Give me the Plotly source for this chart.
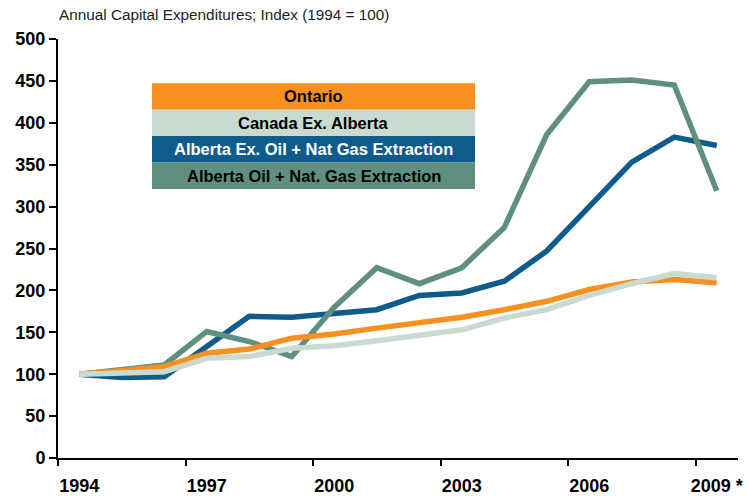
import plotly.graph_objects as go

years = ["1994", "1995", "1996", "1997", "1998", "1999", "2000", "2001",
         "2002", "2003", "2004", "2005", "2006", "2007", "2008", "2009 *"]
tick_labels = ["1994", "1997", "2000", "2003", "2006", "2009 *"]

ontario = [100, 104, 109, 125, 130, 143, 148, 155, 161, 168, 177, 187, 201, 210, 213, 209]
canada_ex_ab = [100, 101, 103, 119, 121, 131, 134, 140, 146, 153, 167, 177, 194, 208, 220, 215]
ab_ex_oil = [100, 96, 97, 132, 169, 168, 172, 177, 194, 197, 211, 247, 300, 353, 383, 373]
ab_oil = [100, 105, 111, 151, 139, 121, 180, 227, 208, 227, 275, 386, 449, 451, 445, 319]

series_names = ["Ontario", "Canada Ex. Alberta",
                "Alberta Ex. Oil + Nat Gas Extraction", "Alberta Oil + Nat. Gas Extraction"]
colors = ["#F7901E", "#C9DBD1", "#0F5C8C", "#5F907F"]
text_colors = ["#000000", "#000000", "#FFFFFF", "#000000"]

FONT = "Arial, Liberation Sans, Helvetica, sans-serif"
x_idx = list(range(len(years)))

fig = go.Figure()
# draw order: blue, green, orange, light
for vals, col, name in [(ab_ex_oil, colors[2], series_names[2]),
                        (ab_oil, colors[3], series_names[3]),
                        (ontario, colors[0], series_names[0]),
                        (canada_ex_ab, colors[1], series_names[1])]:
    fig.add_trace(go.Scatter(x=x_idx, y=vals, mode="lines", name=name,
                             line=dict(color=col, width=5.5), showlegend=False))

# custom legend box
row_top = 1.0 - (83.3 - 39) / 419
row_h = 26.4 / 419
x0 = (152 - 58) / 680
x1 = (475 - 58) / 680
for i, (name, col, tc) in enumerate(zip(series_names, colors, text_colors)):
    yt = row_top - i * row_h
    fig.add_shape(type="rect", xref="paper", yref="paper", x0=x0, x1=x1,
                  y0=yt - row_h, y1=yt, fillcolor=col, line=dict(width=0), layer="above")
    fig.add_annotation(xref="paper", yref="paper", x=(x0 + x1) / 2, y=yt - row_h / 2,
                       text="<b>%s</b>" % name, showarrow=False,
                       font=dict(family=FONT, size=16.5, color=tc),
                       xanchor="center", yanchor="middle")

fig.add_annotation(xref="paper", yref="paper", x=-0.002, y=1 + 24 / 419,
                   text="Annual Capital Expenditures; Index (1994 = 100)",
                   showarrow=False, xanchor="left", yanchor="middle",
                   font=dict(family=FONT, size=15.3, color="#222222"))

fig.update_layout(
    width=749, height=496,
    margin=dict(l=58, r=11, t=39, b=38, autoexpand=False),
    paper_bgcolor="white", plot_bgcolor="white",
    font=dict(family=FONT, color="black"),
    xaxis=dict(range=[-0.5, 15.5], showgrid=False, zeroline=False, automargin=False,
               showline=True, linecolor="black", linewidth=2,
               tickmode="array", tickvals=[0, 3, 6, 9, 12, 15],
               ticktext=["<b>%s</b>" % t for t in tick_labels],
               ticks="outside", ticklen=10, tickcolor="rgba(0,0,0,0)",
               tickfont=dict(family=FONT, size=18, color="black"),
               minor=dict(tick0=-0.5, dtick=3, ticks="outside", ticklen=6,
                          tickwidth=2, tickcolor="black", showgrid=False)),
    yaxis=dict(range=[0, 500], showgrid=False, zeroline=False, automargin=False,
               showline=True, linecolor="black", linewidth=2,
               tickmode="linear", tick0=0, dtick=50,
               ticks="outside", ticklen=7, tickwidth=2, tickcolor="black",
               tickprefix="<b>", ticksuffix="</b>",
               tickfont=dict(family=FONT, size=18, color="black")),
)

fig.write_html("out.html", config={"displayModeBar": False},
               post_script="document.body.style.margin='0';document.body.style.padding='0';document.body.style.overflow='hidden';")
